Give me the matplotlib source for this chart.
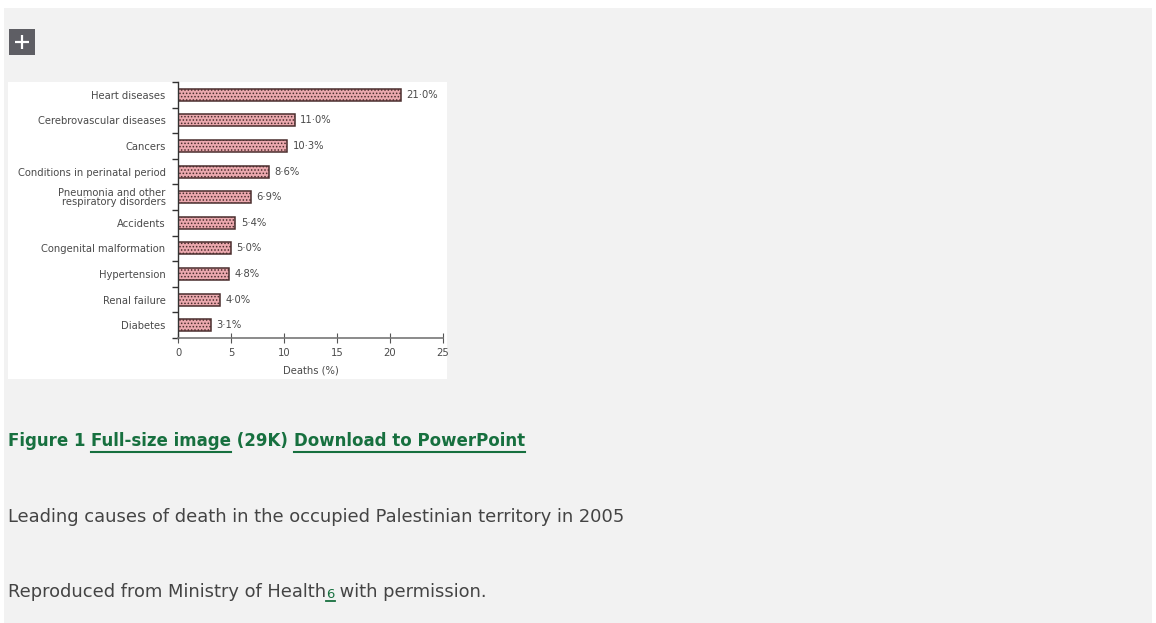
import matplotlib.pyplot as plt
import matplotlib.patches as mpatches
import numpy as np

causes = ['Heart diseases', 'Cerebrovascular diseases', 'Cancers',
          'Conditions in perinatal period',
          'Pneumonia and other\nrespiratory disorders', 'Accidents',
          'Congenital malformation', 'Hypertension', 'Renal failure',
          'Diabetes']
deaths_pct = [21.0, 11.0, 10.3, 8.6, 6.9, 5.4, 5.0, 4.8, 4.0, 3.1]
x_ticks = [0, 5, 10, 15, 20, 25]

W, H = 1156, 623
fig = plt.figure(figsize=(W / 100, H / 100), dpi=100)
fig.patch.set_facecolor('white')

# page layer in pixel coordinates
page = fig.add_axes([0, 0, 1, 1])
page.set_xlim(0, W)
page.set_ylim(H, 0)
page.axis('off')
page.add_patch(mpatches.Rectangle((4, 8), W - 8, H - 8, color='#f2f2f2', lw=0))
# the "+" button
page.add_patch(mpatches.Rectangle((9, 29), 26, 26, color='#5e5e64', lw=0))
page.plot([15, 29], [42, 42], color='white', lw=1.6, solid_capstyle='butt')
page.plot([22, 22], [35, 49], color='white', lw=1.6, solid_capstyle='butt')
# white box behind the figure image
page.add_patch(mpatches.Rectangle((8, 82), 439, 297, color='white', lw=0))

green = '#17703f'
grey = '#444444'
cap_font = ['DejaVu Sans']
body_size = 12.85


def text_run(y, parts, size):
    # parts: (string, colour, bold, underline)
    fig.canvas.draw()
    r = fig.canvas.get_renderer()
    x = 8
    for s, c, bold, under in parts:
        t = page.text(x, y, s, color=c, fontsize=size, family=cap_font,
                      fontweight='bold' if bold else 'normal',
                      va='baseline', ha='left')
        w = t.get_window_extent(renderer=r).width
        if under:
            page.plot([x, x + w], [y + 5.5, y + 5.5], color=c, lw=1.5)
        x += w


text_run(446, [('Figure 1 ', green, True, False),
               ('Full-size image', green, True, True),
               (' (29K) ', green, True, False),
               ('Download to PowerPoint', green, True, True)], 12.0)
text_run(522, [('Leading causes of death in the occupied Palestinian territory in 2005',
                grey, False, False)], body_size)

# "Reproduced ..." line with the small reference number
fig.canvas.draw()
r = fig.canvas.get_renderer()
t1 = page.text(8, 597, 'Reproduced from Ministry of Health', color=grey,
               fontsize=body_size, family=cap_font, va='baseline')
x = 8 + t1.get_window_extent(renderer=r).width
t2 = page.text(x, 598, '6', color=green, fontsize=9.5, family=cap_font,
               va='baseline')
w2 = t2.get_window_extent(renderer=r).width
page.plot([x, x + w2], [601, 601], color=green, lw=1.3)
page.text(x + w2, 597, ' with permission.', color=grey, fontsize=body_size,
          family=cap_font, va='baseline')

# bar chart
ax = fig.add_axes([178 / W, (H - 338) / H, 265 / W, 256 / H])
ax.set_facecolor('white')
pos = np.arange(len(causes))
plt.rcParams['hatch.color'] = '#d07f86'
plt.rcParams['hatch.linewidth'] = 0.7
bars = ax.barh(pos, deaths_pct, height=0.47, color='#eba8ae',
               edgecolor='#4a2e2e', linewidth=1.1, hatch='.....')
ax.set_ylim(len(causes) - 0.5, -0.5)
ax.set_xlim(0, 25)

lab_font = ['DejaVu Sans']
txt = '#4a4a4a'
fs = 7.2
for p, v in zip(pos, deaths_pct):
    ax.annotate(('%.1f%%' % v).replace('.', '·'), (v, p), xytext=(4, 0),
                textcoords='offset points', va='center', ha='left',
                fontsize=fs, color=txt, family=lab_font)

ax.set_yticks(pos)
ax.set_yticklabels(causes, fontsize=fs, color=txt, family=lab_font,
                   linespacing=0.9)
ax.set_yticks(np.arange(-0.5, len(causes)), minor=True)
ax.tick_params(axis='y', which='major', length=0, pad=9)
ax.tick_params(axis='y', which='minor', length=4, width=1, color='#333333',
               direction='out')

ax.set_xticks(x_ticks)
ax.set_xticklabels([str(t) for t in x_ticks], fontsize=fs, color=txt,
                   family=lab_font)
ax.tick_params(axis='x', length=7, width=0.8, direction='inout', pad=4,
               color='#555555')
ax.set_xlabel('Deaths (%)', fontsize=fs, color=txt, family=lab_font,
              labelpad=5)

for side in ['top', 'right']:
    ax.spines[side].set_visible(False)
ax.spines['left'].set_color('#333333')
ax.spines['left'].set_linewidth(1.0)
ax.spines['bottom'].set_color('#777777')
ax.spines['bottom'].set_linewidth(1.2)
ax.spines['bottom'].set_linestyle((0, (1, 1)))

fig.savefig('out.png', dpi=100, facecolor=fig.get_facecolor())
